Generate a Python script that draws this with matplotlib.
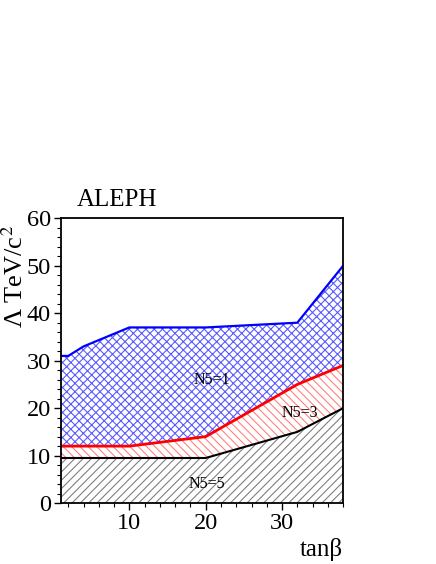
import numpy as np
import matplotlib
matplotlib.use('Agg')
import matplotlib.pyplot as plt
from matplotlib.ticker import MultipleLocator

plt.rcParams['font.family'] = ['Liberation Serif', 'DejaVu Serif']
plt.rcParams['mathtext.fontset'] = 'stix'
plt.rcParams['hatch.linewidth'] = 0.8

# ===== data =====
tanb_n1 = [1, 2, 4, 10, 20, 32, 38]
lam_n1 = [31, 31, 33, 37, 37, 38, 50]

tanb_n3 = [1, 10, 20, 32, 38]
lam_n3 = [12, 12, 14, 25, 29]

tanb_n5 = [1, 20, 32, 38]
lam_n5 = [9.5, 9.5, 15, 20]

# common grid so the bands can be filled between the curves
grid = np.array(sorted(set(tanb_n1) | set(tanb_n3) | set(tanb_n5)), dtype=float)
y1 = np.interp(grid, tanb_n1, lam_n1)
y3 = np.interp(grid, tanb_n3, lam_n3)
y5 = np.interp(grid, tanb_n5, lam_n5)

fig = plt.figure(figsize=(4.36, 5.64), dpi=100)
ax = fig.add_axes([0.139, 0.108, 0.648, 0.505])

# bands
ax.fill_between(grid, y3, y1, facecolor='none', edgecolor='#5a5aff', hatch='xxxx', linewidth=0)
ax.fill_between(grid, y5, y3, facecolor='none', edgecolor='#ff8080', hatch='\\\\\\\\', linewidth=0)
ax.fill_between(grid, 0, y5, facecolor='none', edgecolor='#808080', hatch='////', linewidth=0)

# boundary lines
ax.plot(tanb_n1, lam_n1, color='blue', lw=1.6)
ax.plot(tanb_n3, lam_n3, color='red', lw=2.0)
ax.plot(tanb_n5, lam_n5, color='black', lw=1.5)

ax.text(20.8, 25.9, 'N5=1', fontsize=11.5, ha='center', va='center')
ax.text(32.3, 19.0, 'N5=3', fontsize=11.5, ha='center', va='center')
ax.text(20.2, 4.0, 'N5=5', fontsize=11.5, ha='center', va='center')

ax.set_xlim(1, 38)
ax.set_ylim(0, 60)
ax.xaxis.set_major_locator(MultipleLocator(10))
ax.xaxis.set_minor_locator(MultipleLocator(2))
ax.yaxis.set_major_locator(MultipleLocator(10))
ax.yaxis.set_minor_locator(MultipleLocator(2))
ax.tick_params(which='major', direction='out', length=5, width=1, labelsize=17.5, pad=2)
ax.tick_params(which='minor', direction='out', length=3, width=0.8)
for s in ax.spines.values():
    s.set_linewidth(1.3)

ax.set_ylabel('Λ TeV/c$^2$', fontsize=19, loc='top')
ax.yaxis.set_label_coords(-0.116, 0.975)
ax.set_xlabel('tanβ', fontsize=18, loc='right', labelpad=3)
fig.text(0.177, 0.645, 'ALEPH', fontsize=18, ha='left', va='center')

fig.savefig('out.png', dpi=100)
